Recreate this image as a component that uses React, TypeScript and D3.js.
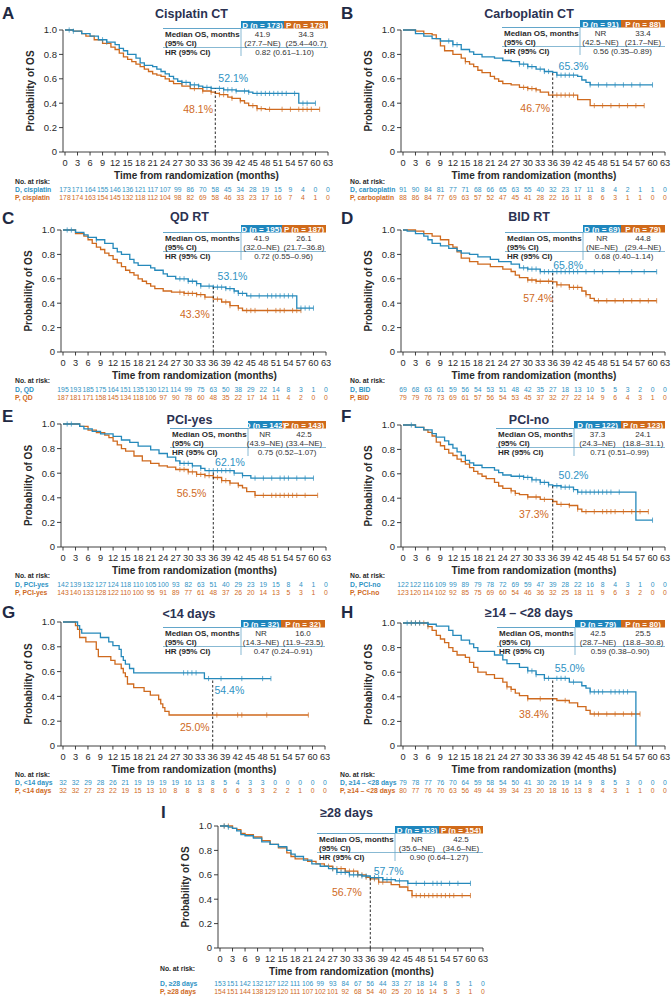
import React from 'react';
import * as d3 from 'd3';

// ---- data ----
const xTicks = [0, 3, 6, 9, 12, 15, 18, 21, 24, 27, 30, 33, 36, 39, 42, 45, 48, 51, 54, 57, 60, 63];
const yTicks = [0, 0.2, 0.4, 0.6, 0.8, 1.0];
const yTickLabels = ['0', '0.2', '0.4', '0.6', '0.8', '1.0'];

// KM knots: [month, survival after step]
const cisD = [[0, 1], [2, 0.99], [4, 0.97], [6, 0.95], [8, 0.92], [10, 0.9], [12, 0.88], [13, 0.85], [14, 0.83], [15, 0.8], [17, 0.77], [18, 0.73], [19, 0.71], [21, 0.7], [22, 0.68], [23, 0.66], [24, 0.64], [25, 0.62], [26, 0.6], [27, 0.58], [28, 0.57], [30, 0.55], [32, 0.54], [33, 0.53], [35, 0.521], [38, 0.51], [41, 0.5], [44, 0.49], [45, 0.48], [56, 0.4]];
const cisP = [[0, 1], [2, 0.99], [4, 0.97], [5, 0.95], [7, 0.92], [9, 0.89], [11, 0.86], [12, 0.84], [13, 0.81], [14, 0.78], [15, 0.76], [16, 0.74], [17, 0.72], [18, 0.7], [19, 0.68], [20, 0.66], [21, 0.64], [22, 0.63], [23, 0.62], [24, 0.6], [25, 0.58], [26, 0.56], [28, 0.54], [30, 0.52], [33, 0.5], [35, 0.49], [36, 0.481], [37, 0.47], [39, 0.45], [40, 0.44], [42, 0.42], [43, 0.4], [44, 0.38], [46, 0.355], [48, 0.35]];
const cisDCens = [1, 2, 9, 10, 28, 29, 30, 31, 32, 34, 35, 37, 38, 39, 40, 41, 43, 44, 46, 47, 48, 49, 50, 51, 52, 53, 55, 57, 58, 60];
const cisPCens = [31, 33, 35, 37, 38, 40, 42, 45, 46, 47, 49, 52, 54, 56, 57, 58, 59, 61];

const carD = [[0, 1], [3, 0.97], [5, 0.95], [7, 0.93], [9, 0.91], [12, 0.88], [14, 0.84], [16, 0.82], [17, 0.8], [19, 0.78], [22, 0.77], [24, 0.75], [26, 0.74], [28, 0.72], [30, 0.7], [32, 0.68], [34, 0.66], [36, 0.653], [37, 0.63], [42, 0.62], [43, 0.59], [44, 0.57], [45, 0.55]];
const carP = [[0, 1], [3, 0.99], [5, 0.97], [7, 0.96], [8, 0.93], [9, 0.87], [10, 0.83], [12, 0.8], [14, 0.77], [15, 0.74], [16, 0.72], [17, 0.7], [18, 0.67], [19, 0.65], [21, 0.62], [22, 0.6], [23, 0.58], [24, 0.56], [26, 0.55], [28, 0.53], [30, 0.52], [32, 0.51], [33, 0.49], [35, 0.467], [42, 0.43], [45, 0.38]];
const carDCens = [11, 12, 13, 28, 29, 30, 31, 33, 34, 35, 37, 38, 39, 40, 41, 45, 47, 49, 51, 53, 55, 57, 60];
const carPCens = [15, 29, 30, 31, 32, 36, 37, 38, 39, 40, 41, 46, 48, 50, 52, 54, 56, 58];

const qdD = [[0, 1], [3, 0.98], [5, 0.96], [6, 0.94], [8, 0.92], [10, 0.89], [12, 0.85], [13, 0.82], [14, 0.8], [16, 0.76], [17, 0.73], [18, 0.71], [21, 0.69], [22, 0.67], [24, 0.64], [25, 0.62], [27, 0.6], [30, 0.58], [32, 0.56], [33, 0.54], [36, 0.531], [39, 0.52], [41, 0.5], [42, 0.48], [44, 0.46], [56, 0.36]];
const qdP = [[0, 1], [3, 0.97], [5, 0.95], [6, 0.92], [7, 0.89], [8, 0.86], [9, 0.84], [10, 0.81], [11, 0.79], [12, 0.76], [13, 0.73], [14, 0.7], [15, 0.67], [16, 0.65], [17, 0.63], [18, 0.6], [19, 0.58], [20, 0.56], [21, 0.54], [22, 0.52], [24, 0.5], [26, 0.49], [29, 0.48], [32, 0.47], [34, 0.45], [36, 0.433], [38, 0.41], [40, 0.38], [42, 0.36], [43, 0.34]];
const qdDCens = [1, 2, 8, 28, 29, 30, 31, 32, 33, 35, 36, 37, 38, 39, 40, 41, 42, 43, 45, 47, 49, 50, 51, 52, 53, 54, 55, 57, 58, 59, 60];
const qdPCens = [28, 29, 30, 31, 32, 33, 34, 37, 39, 40, 42, 44, 45, 46, 49, 51, 52, 53, 55, 56, 57];

const bidD = [[0, 1], [1, 0.99], [3, 0.97], [5, 0.95], [6, 0.92], [7, 0.89], [9, 0.87], [11, 0.85], [13, 0.83], [14, 0.81], [16, 0.8], [18, 0.78], [21, 0.76], [23, 0.74], [26, 0.72], [28, 0.69], [30, 0.68], [33, 0.658]];
const bidP = [[0, 1], [3, 0.99], [5, 0.97], [7, 0.95], [9, 0.92], [11, 0.88], [12, 0.86], [13, 0.82], [14, 0.77], [16, 0.74], [18, 0.72], [21, 0.7], [24, 0.68], [26, 0.66], [27, 0.63], [28, 0.61], [30, 0.59], [32, 0.58], [36, 0.574], [37, 0.55], [40, 0.53], [43, 0.5], [44, 0.47], [45, 0.44], [46, 0.42]];
const bidDCens = [29, 30, 31, 32, 33, 34, 35, 36, 37, 38, 39, 40, 41, 42, 44, 46, 48, 52, 55, 58, 61];
const bidPCens = [30, 31, 32, 33, 35, 37, 38, 40, 41, 42, 44, 47, 49, 51, 53, 55, 57, 59, 61];

const pyD = [[0, 1], [4, 0.98], [5, 0.96], [7, 0.94], [9, 0.92], [12, 0.9], [14, 0.87], [16, 0.85], [18, 0.82], [21, 0.79], [23, 0.76], [25, 0.73], [27, 0.7], [28, 0.68], [31, 0.66], [33, 0.64], [34, 0.621], [41, 0.6], [43, 0.58], [45, 0.56]];
const pyP = [[0, 1], [4, 0.98], [6, 0.95], [8, 0.93], [10, 0.91], [11, 0.89], [12, 0.86], [13, 0.83], [14, 0.8], [15, 0.78], [17, 0.74], [19, 0.7], [21, 0.68], [23, 0.66], [25, 0.65], [27, 0.63], [30, 0.61], [32, 0.59], [34, 0.58], [36, 0.565], [38, 0.54], [40, 0.52], [42, 0.5], [43, 0.48], [44, 0.45], [46, 0.42]];
const pyDCens = [1, 2, 28, 29, 30, 31, 33, 35, 36, 37, 38, 39, 40, 41, 43, 46, 48, 50, 52, 53, 54, 56, 58, 60];
const pyPCens = [28, 29, 30, 31, 32, 33, 34, 35, 37, 38, 39, 40, 42, 46, 48, 50, 51, 52, 53, 54, 55, 56, 58, 61];

const pnD = [[0, 1], [3, 0.98], [5, 0.96], [7, 0.93], [8, 0.9], [10, 0.87], [11, 0.84], [12, 0.81], [13, 0.78], [14, 0.75], [15, 0.71], [16, 0.69], [17, 0.67], [19, 0.65], [22, 0.63], [23, 0.61], [24, 0.59], [26, 0.58], [29, 0.57], [31, 0.55], [33, 0.53], [35, 0.51], [36, 0.502], [38, 0.49], [41, 0.47], [42, 0.45], [56, 0.22]];
const pnP = [[0, 1], [3, 0.98], [5, 0.96], [6, 0.94], [7, 0.91], [8, 0.86], [9, 0.83], [10, 0.8], [11, 0.77], [12, 0.75], [13, 0.72], [14, 0.7], [15, 0.68], [16, 0.65], [17, 0.62], [18, 0.6], [19, 0.58], [20, 0.56], [22, 0.53], [23, 0.5], [24, 0.48], [26, 0.46], [27, 0.44], [28, 0.43], [30, 0.41], [33, 0.39], [36, 0.373], [37, 0.35], [40, 0.34], [42, 0.31], [43, 0.29]];
const pnDCens = [2, 28, 29, 30, 31, 32, 33, 34, 35, 37, 38, 39, 40, 41, 42, 43, 44, 45, 46, 47, 48, 49, 50, 52, 60];
const pnPCens = [26, 27, 30, 32, 34, 36, 38, 40, 42, 44, 46, 48, 49, 50, 51, 53, 55, 57, 59];

const lt14D = [[0, 1], [3.5, 0.97], [4, 0.94], [4.5, 0.91], [9, 0.875], [11, 0.84], [12, 0.81], [13.5, 0.78], [14, 0.72], [14.5, 0.69], [15, 0.66], [16, 0.625], [17, 0.59], [34, 0.544]];
const lt14P = [[0, 1], [3, 0.97], [3.5, 0.94], [4, 0.875], [5.5, 0.84], [8, 0.78], [8.5, 0.72], [11.5, 0.69], [12.5, 0.66], [14, 0.625], [14.5, 0.59], [15, 0.56], [15.5, 0.5], [17, 0.47], [19.5, 0.44], [21, 0.41], [23, 0.375], [23.5, 0.34], [24, 0.31], [24.5, 0.28], [25.5, 0.25]];
const lt14DCens = [29, 30, 31, 32, 35, 38, 43, 48, 50];
const lt14PCens = [37, 42, 43, 49, 59];

const midD = [[0, 1], [6, 0.99], [8, 0.975], [11, 0.94], [12, 0.9], [14, 0.86], [16, 0.83], [17, 0.8], [18, 0.77], [22, 0.74], [24, 0.7], [25, 0.67], [28, 0.64], [30, 0.61], [32, 0.58], [34, 0.55], [40, 0.52], [43, 0.49], [44, 0.47], [45, 0.44], [56, 0]];
const midP = [[0, 1], [6, 0.97], [7, 0.94], [8, 0.9], [9, 0.87], [10, 0.84], [11, 0.8], [12, 0.77], [13, 0.74], [15, 0.72], [16, 0.68], [17, 0.64], [18, 0.6], [20, 0.58], [22, 0.55], [24, 0.52], [25, 0.48], [26, 0.46], [27, 0.43], [28, 0.41], [30, 0.384], [37, 0.37], [40, 0.35], [42, 0.32], [44, 0.29], [45, 0.26]];
const midDCens = [1, 2, 3, 4, 6, 30, 31, 32, 34, 35, 37, 38, 39, 41, 45, 46, 47, 48, 50, 51, 52, 53, 54];
const midPCens = [2, 3, 4, 5, 6, 25, 26, 30, 33, 39, 46, 47, 49, 51, 53, 55, 57];

const ge28D = [[0, 1], [2, 0.99], [3, 0.98], [4, 0.96], [5, 0.93], [6, 0.92], [8, 0.9], [10, 0.87], [12, 0.85], [14, 0.83], [16, 0.8], [17, 0.77], [18, 0.75], [20, 0.72], [22, 0.69], [24, 0.67], [26, 0.65], [28, 0.62], [31, 0.6], [34, 0.59], [36, 0.577], [39, 0.56], [42, 0.55], [45, 0.53]];
const ge28P = [[0, 1], [3, 0.98], [4, 0.97], [5, 0.94], [6, 0.93], [8, 0.91], [10, 0.88], [12, 0.85], [14, 0.82], [16, 0.78], [17, 0.75], [18, 0.73], [21, 0.71], [23, 0.69], [25, 0.67], [27, 0.65], [30, 0.63], [33, 0.6], [35, 0.58], [36, 0.567], [38, 0.54], [41, 0.52], [43, 0.5], [45, 0.47], [46, 0.43]];
const ge28DCens = [1, 2, 27, 28, 29, 30, 31, 32, 33, 34, 35, 37, 38, 39, 40, 41, 43, 45, 47, 49, 51, 52, 53, 55, 57, 60];
const ge28PCens = [1, 2, 26, 27, 28, 29, 30, 31, 32, 33, 34, 35, 36, 37, 38, 39, 46, 47, 48, 49, 50, 51, 52, 53, 54, 55, 56, 58, 60];

// numbers at risk
const cisDRisk = [173, 171, 164, 155, 146, 136, 121, 117, 107, 99, 86, 70, 58, 45, 34, 28, 19, 15, 9, 4, 0, 0];
const cisPRisk = [178, 174, 163, 154, 145, 132, 118, 112, 104, 98, 82, 69, 58, 46, 33, 23, 17, 16, 7, 4, 1, 0];
const carDRisk = [91, 90, 84, 81, 77, 71, 68, 66, 65, 63, 55, 40, 32, 23, 17, 11, 8, 4, 2, 1, 1, 0];
const carPRisk = [88, 86, 84, 77, 69, 63, 57, 52, 47, 45, 41, 28, 22, 16, 11, 8, 6, 3, 1, 1, 0, 0];
const qdDRisk = [195, 193, 185, 175, 164, 151, 135, 130, 121, 114, 99, 75, 63, 50, 38, 29, 22, 14, 8, 3, 1, 0];
const qdPRisk = [187, 181, 171, 158, 145, 134, 118, 106, 97, 90, 78, 60, 48, 35, 22, 17, 14, 11, 4, 2, 0, 0];
const bidDRisk = [69, 68, 63, 61, 59, 56, 54, 53, 51, 48, 42, 35, 27, 18, 13, 10, 5, 5, 3, 2, 0, 0];
const bidPRisk = [79, 79, 76, 73, 69, 61, 57, 56, 54, 53, 45, 37, 32, 27, 22, 14, 9, 6, 4, 3, 1, 0];
const pyDRisk = [142, 139, 132, 127, 124, 118, 110, 105, 100, 93, 82, 63, 51, 40, 29, 23, 19, 15, 8, 4, 1, 0];
const pyPRisk = [143, 140, 133, 128, 122, 110, 100, 95, 91, 89, 77, 61, 48, 37, 26, 20, 14, 13, 5, 3, 1, 0];
const pnDRisk = [122, 122, 116, 109, 99, 89, 79, 78, 72, 69, 59, 47, 39, 28, 22, 16, 8, 4, 3, 1, 0, 0];
const pnPRisk = [123, 120, 114, 102, 92, 85, 75, 69, 60, 54, 46, 36, 32, 25, 18, 11, 9, 6, 3, 2, 0, 0];
const lt14DRisk = [32, 32, 29, 28, 26, 21, 19, 19, 19, 19, 16, 13, 8, 5, 4, 3, 3, 0, 0, 0, 0, 0];
const lt14PRisk = [32, 32, 27, 23, 22, 19, 15, 13, 10, 8, 8, 8, 8, 6, 6, 3, 3, 2, 2, 1, 0, 0];
const midDRisk = [79, 78, 77, 76, 70, 64, 59, 58, 54, 50, 41, 30, 26, 19, 14, 9, 8, 5, 3, 0, 0, 0];
const midPRisk = [80, 77, 76, 70, 63, 56, 49, 44, 39, 34, 23, 20, 18, 16, 13, 8, 4, 3, 1, 1, 0, 0];
const ge28DRisk = [153, 151, 142, 132, 127, 122, 111, 106, 99, 93, 84, 67, 56, 44, 33, 27, 18, 14, 8, 5, 1, 0];
const ge28PRisk = [154, 151, 144, 138, 129, 120, 111, 107, 102, 101, 92, 68, 54, 40, 25, 20, 16, 14, 5, 3, 1, 0];

// summary tables: [n, median, ci] per arm, and HR
const tableN = [[173, 178], [91, 88], [195, 187], [69, 79], [142, 143], [122, 123], [32, 32], [79, 80], [153, 154]];
const tableMedian = [['41.9', '34.3'], ['NR', '33.4'], ['41.9', '26.1'], ['NR', '44.8'], ['NR', '42.5'], ['37.3', '24.1'], ['NR', '16.0'], ['42.5', '25.5'], ['NR', '42.5']];
const tableCI = [['(27.7–NE)', '(25.4–40.7)'], ['(42.5–NE)', '(21.7–NE)'], ['(32.0–NE)', '(21.7–36.8)'], ['(NE–NE)', '(29.4–NE)'], ['(43.9–NE)', '(33.4–NE)'], ['(24.3–NE)', '(18.8–31.1)'], ['(14.3–NE)', '(11.9–23.5)'], ['(28.7–NE)', '(18.8–30.8)'], ['(35.6–NE)', '(34.6–NE)']];
const tableHR = ['0.82 (0.61–1.10)', '0.56 (0.35–0.89)', '0.72 (0.55–0.96)', '0.68 (0.40–1.14)', '0.75 (0.52–1.07)', '0.71 (0.51–0.99)', '0.47 (0.24–0.91)', '0.59 (0.38–0.90)', '0.90 (0.64–1.27)'];
const os36 = [['52.1%', '48.1%'], ['65.3%', '46.7%'], ['53.1%', '43.3%'], ['65.8%', '57.4%'], ['62.1%', '56.5%'], ['50.2%', '37.3%'], ['54.4%', '25.0%'], ['55.0%', '38.4%'], ['57.7%', '56.7%']];

const TEAL = '#2589bb';
const TEAL_TXT = '#2f93c4';
const ORANGE = '#cf6a1e';
const INK = '#2a2a2a';
const FONT = '"Liberation Sans", Arial, Helvetica, sans-serif';

const panels = [
  { letter: 'A', title: 'Cisplatin CT', sub: 'cisplatin', d: cisD, p: cisP, dc: cisDCens, pc: cisPCens, dr: cisDRisk, pr: cisPRisk,
    box: [65, 328, 30, 152], lx: 2, ly: 19, ty: 18, tb: 87, tt: 21, rx: 15, rh: 32, rd: 39.5, dl: [40.3, 0.6], pl: [31.9, 0.35] },
  { letter: 'B', title: 'Carboplatin CT', sub: 'carboplatin', d: carD, p: carP, dc: carDCens, pc: carPCens, dr: carDRisk, pr: carPRisk,
    box: [403, 665, 30, 152], lx: 341, ly: 19, ty: 18, tb: 85, tt: 20, rx: 350, rh: 32, rd: 39.5, dl: [41, 0.7], pl: [31.8, 0.356] },
  { letter: 'C', title: 'QD RT', sub: 'QD', d: qdD, p: qdP, dc: qdDCens, pc: qdPCens, dr: qdDRisk, pr: qdPRisk,
    box: [63, 326, 230, 352], lx: 2, ly: 224, ty: 221, tb: 85, tt: 225, rx: 15, rh: 31, rd: 39.5, dl: [40.6, 0.62], pl: [31.6, 0.31] },
  { letter: 'D', title: 'BID RT', sub: 'BID', d: bidD, p: bidP, dc: bidDCens, pc: bidPCens, dr: bidDRisk, pr: bidPRisk,
    box: [403, 665, 230, 352], lx: 341, ly: 224, ty: 221, tb: 82, tt: 225, rx: 350, rh: 31, rd: 39.5, dl: [39.7, 0.71], pl: [32.5, 0.44] },
  { letter: 'E', title: 'PCI-yes', sub: 'PCI-yes', d: pyD, p: pyP, dc: pyDCens, pc: pyPCens, dr: pyDRisk, pr: pyPRisk,
    box: [63, 326, 424, 547], lx: 2, ly: 422, ty: 424, tb: 78, tt: 421, rx: 15, rh: 31, rd: 39.5, dl: [40, 0.69], pl: [30.8, 0.436] },
  { letter: 'F', title: 'PCI-no', sub: 'PCI-no', d: pnD, p: pnP, dc: pnDCens, pc: pnPCens, dr: pnDRisk, pr: pnPRisk,
    box: [403, 665, 425, 547], lx: 341, ly: 422, ty: 424, tb: 91, tt: 421, rx: 350, rh: 31, rd: 39.5, dl: [41, 0.59], pl: [31.5, 0.27] },
  { letter: 'G', title: '<14 days', sub: '<14 days', d: lt14D, p: lt14P, dc: lt14DCens, pc: lt14PCens, dr: lt14DRisk, pr: lt14PRisk,
    box: [63, 325, 622, 746], lx: 2, ly: 618, ty: 618, tb: 84, tt: 620, rx: 15, rh: 31, rd: 38.5, dl: [40, 0.446], pl: [31.7, 0.149] },
  { letter: 'H', title: '≥14 – <28 days', sub: '≥14 – <28 days', d: midD, p: midP, dc: midDCens, pc: midPCens, dr: midDRisk, pr: midPRisk,
    box: [403, 665, 623, 746], lx: 341, ly: 618, ty: 617, tb: 90, tt: 620, rx: 340, rh: 31, rd: 38.5, dl: [40.1, 0.63], pl: [31.5, 0.256] },
  { letter: 'I', title: '≥28 days', sub: '≥28 days', d: ge28D, p: ge28P, dc: ge28DCens, pc: ge28PCens, dr: ge28DRisk, pr: ge28PRisk,
    box: [220, 483, 826, 948], lx: 161, ly: 818, ty: 817, tb: 88, tt: 826, rx: 160, rh: 23, rd: 38, dl: [40.4, 0.63], pl: [30.4, 0.455] },
];

function survAt(knots: number[][], t: number) {
  let s = 1;
  for (const [k, v] of knots) if (k <= t) s = v;
  return s;
}

function Curve({ knots, cens, x, y, color }: any) {
  const end = Math.max(knots[knots.length - 1][0], cens.length ? cens[cens.length - 1] : 0);
  const pts = [...knots, [end, knots[knots.length - 1][1]]];
  const line = d3.line<number[]>().x((d) => x(d[0])).y((d) => y(d[1])).curve(d3.curveStepAfter);
  return (
    <g>
      <path d={line(pts) || ''} fill="none" stroke={color} strokeWidth={1.3} />
      {cens.map((c: number, i: number) => {
        const cy = y(survAt(knots, c));
        return <line key={i} x1={x(c)} x2={x(c)} y1={cy - 2.6} y2={cy + 2.6} stroke={color} strokeWidth={0.7} />;
      })}
    </g>
  );
}

function Panel({ cfg, idx }: { cfg: any; idx: number }) {
  const [l, r, t, b] = cfg.box;
  const x = d3.scaleLinear().domain([0, 63]).range([l, r]);
  const y = d3.scaleLinear().domain([0, 1]).range([b, t]);
  const ax = l - 2;
  const d36 = survAt(cfg.d, 36);
  const p36 = survAt(cfg.p, 36);
  const vline = r - cfg.tb;
  const tt = cfg.tt;
  const hb = tt + 7.5; // header bottom
  const labX = vline - 76;
  const dCol = (vline + r - 44) / 2;
  const pCol = r - 22;
  return (
    <g fontFamily={FONT}>
      <text x={cfg.lx} y={cfg.ly} fontSize={17} fontWeight="bold" fill="#1f2a44">{cfg.letter}</text>
      <text x={(l + r) / 2 - 5} y={cfg.ty} fontSize={12.5} fontWeight="bold" fill="#2b3252" textAnchor="middle">{cfg.title}</text>

      {/* y axis */}
      <line x1={ax} x2={ax} y1={t} y2={b} stroke={INK} strokeWidth={0.9} />
      {yTicks.map((v, i) => (
        <g key={i}>
          <line x1={ax - 4} x2={ax} y1={y(v)} y2={y(v)} stroke={INK} strokeWidth={0.9} />
          <text x={ax - 6} y={y(v) + 3.3} fontSize={9.5} textAnchor="end" fill={INK}>{yTickLabels[i]}</text>
        </g>
      ))}
      <text transform={`translate(${l - 31},${(t + b) / 2}) rotate(-90)`} fontSize={10} fontWeight="bold" textAnchor="middle" fill={INK}>Probability of OS</text>

      {/* x axis */}
      <line x1={ax} x2={r} y1={b} y2={b} stroke={INK} strokeWidth={0.9} />
      {xTicks.map((v, i) => (
        <g key={i}>
          <line x1={x(v)} x2={x(v)} y1={b} y2={b + 3.5} stroke={INK} strokeWidth={0.9} />
          <text x={x(v)} y={b + 14} fontSize={9.2} textAnchor="middle" fill={INK}>{v}</text>
        </g>
      ))}
      <text x={(l + r) / 2} y={b + 27} fontSize={10} fontWeight="bold" textAnchor="middle" fill={INK}>Time from randomization (months)</text>

      {/* curves */}
      <Curve knots={cfg.p} cens={cfg.pc} x={x} y={y} color={ORANGE} />
      <Curve knots={cfg.d} cens={cfg.dc} x={x} y={y} color={TEAL} />
      <line x1={x(36)} x2={x(36)} y1={y(0)} y2={y(Math.max(d36, p36))} stroke={INK} strokeWidth={1} strokeDasharray="2.5,2" />
      <text x={x(cfg.dl[0])} y={y(cfg.dl[1]) + 3.5} fontSize={10.5} textAnchor="middle" fill={TEAL_TXT}>{os36[idx][0]}</text>
      <text x={x(cfg.pl[0])} y={y(cfg.pl[1]) + 3.5} fontSize={10.5} textAnchor="middle" fill={ORANGE}>{os36[idx][1]}</text>

      {/* summary table */}
      <rect x={vline} y={tt} width={r - 44 - vline} height={7.5} fill="#1e86bd" />
      <rect x={r - 44} y={tt} width={44} height={7.5} fill="#d06a1a" />
      <text x={dCol} y={tt + 6.5} fontSize={8} fontWeight="bold" fill="#fff" textAnchor="middle">{`D (n = ${tableN[idx][0]})`}</text>
      <text x={pCol} y={tt + 6.5} fontSize={8} fontWeight="bold" fill="#fff" textAnchor="middle">{`P (n = ${tableN[idx][1]})`}</text>
      <line x1={labX - 2} x2={vline} y1={hb} y2={hb} stroke="#3b8fbd" strokeWidth={0.8} />
      <line x1={labX - 2} x2={r} y1={tt + 26.5} y2={tt + 26.5} stroke="#6aa7c8" strokeWidth={0.8} />
      <line x1={vline} x2={vline} y1={hb} y2={tt + 35} stroke="#6aa7c8" strokeWidth={0.8} />
      <text x={labX} y={tt + 16} fontSize={8} fontWeight="bold" fill={INK}>Median OS, months</text>
      <text x={labX} y={tt + 24.5} fontSize={8} fontWeight="bold" fill={INK}>(95% CI)</text>
      <text x={labX} y={tt + 33.5} fontSize={8} fontWeight="bold" fill={INK}>HR (95% CI)</text>
      <text x={dCol} y={tt + 16} fontSize={8} textAnchor="middle" fill="#333">{tableMedian[idx][0]}</text>
      <text x={pCol} y={tt + 16} fontSize={8} textAnchor="middle" fill="#333">{tableMedian[idx][1]}</text>
      <text x={dCol} y={tt + 24.5} fontSize={8} textAnchor="middle" fill="#333">{tableCI[idx][0]}</text>
      <text x={pCol} y={tt + 24.5} fontSize={8} textAnchor="middle" fill="#333">{tableCI[idx][1]}</text>
      <text x={(vline + r) / 2} y={tt + 33.5} fontSize={8} textAnchor="middle" fill="#333">{tableHR[idx]}</text>

      {/* numbers at risk */}
      <text x={cfg.rx} y={b + cfg.rh} fontSize={6.8} fontWeight="bold" fill={INK}>No. at risk:</text>
      <text x={cfg.rx} y={b + cfg.rd} fontSize={6.8} fontWeight="bold" fill={TEAL_TXT}>{`D, ${cfg.sub}`}</text>
      <text x={cfg.rx} y={b + cfg.rd + 8} fontSize={6.8} fontWeight="bold" fill={ORANGE}>{`P, ${cfg.sub}`}</text>
      {xTicks.map((v, i) => (
        <g key={i}>
          <text x={x(v)} y={b + cfg.rd} fontSize={6.8} textAnchor="middle" fill={TEAL_TXT}>{cfg.dr[i]}</text>
          <text x={x(v)} y={b + cfg.rd + 8} fontSize={6.8} textAnchor="middle" fill={ORANGE}>{cfg.pr[i]}</text>
        </g>
      ))}
    </g>
  );
}

export default function App() {
  return (
    <svg width={671} height={998} style={{ position: 'absolute', left: 0, top: 0, background: '#fff' }}>
      <rect width={671} height={998} fill="#fff" />
      {panels.map((p, i) => <Panel key={i} cfg={p} idx={i} />)}
    </svg>
  );
}
